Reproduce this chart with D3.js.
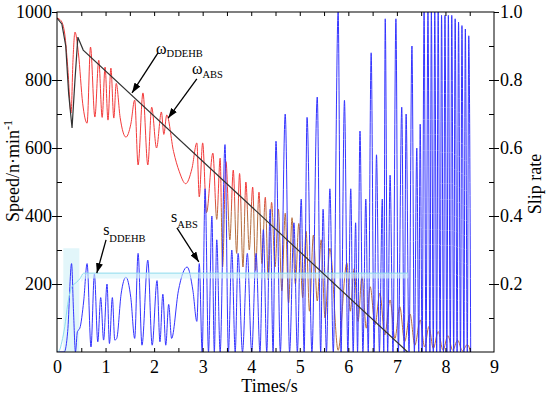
<!DOCTYPE html>
<html>
<head>
<meta charset="utf-8">
<script src="https://cdn.jsdelivr.net/npm/d3@7"></script>
<style>
body { margin: 0; background: #fff; }
svg { display: block; font-family: 'Liberation Serif', 'Times New Roman', serif; }
.axis text { font-size: 18px; fill: #000; font-family: 'Liberation Serif', 'Times New Roman', serif; }
.axis line { stroke: #000; stroke-width: 1; }
.axis path { display: none; }
</style>
</head>
<body>
<div id="chart"></div>
<script>
'use strict';

// wheel speed (n/min) over time (s)
var omegaDdehb = [[0, 982], [0.1, 965], [0.18, 900], [0.24, 760], [0.31, 659], [0.37, 800], [0.43, 926], [0.54, 888], [7.22, 0]];

var omegaAbs = [[0, 982], [0.08, 975], [0.16, 935], [0.22, 840], [0.29, 703], [0.33, 860], [0.37, 941], [0.44, 880],
  [0.53, 730], [0.62, 673], [0.69, 897], [0.78, 691], [0.86, 858], [0.93, 690], [0.99, 838], [1.05, 682],
  [1.11, 835], [1.17, 688], [1.22, 790], [1.30, 690], [1.42, 632], [1.52, 670], [1.60, 741], [1.67, 550],
  [1.77, 762], [1.87, 550], [1.95, 720], [2.05, 600], [2.15, 706], [2.20, 640], [2.26, 697], [2.40, 590],
  [2.52, 530], [2.65, 495], [2.78, 540], [2.88, 615], [2.93, 456], [3.00, 615], [3.08, 410], [3.21, 585],
  [3.29, 390], [3.36, 570], [3.41, 250], [3.48, 560], [3.56, 330], [3.63, 535], [3.70, 290], [3.76, 525],
  [3.83, 250], [3.89, 500], [3.96, 300], [4.03, 485], [4.09, 240], [4.16, 470], [4.22, 260], [4.29, 455],
  [4.35, 212], [4.42, 440], [4.49, 250], [4.56, 420], [4.63, 180], [4.70, 408], [4.77, 144], [4.84, 395],
  [4.91, 200], [4.98, 378], [5.06, 160], [5.13, 355], [5.20, 120], [5.28, 344], [5.36, 150], [5.44, 330],
  [5.52, 100], [5.62, 305], [5.79, 5], [5.97, 262], [6.04, 120], [6.12, 245], [6.20, 90], [6.28, 222],
  [6.37, 70], [6.45, 192], [6.55, 80], [6.65, 173], [6.75, 50], [6.86, 153], [6.96, 40], [7.06, 133],
  [7.16, 30], [7.27, 112], [7.37, 20], [7.48, 94], [7.57, 15], [7.66, 75], [7.75, 10], [7.85, 60],
  [7.95, 5], [8.05, 48], [8.15, 5], [8.25, 35], [8.35, 3], [8.45, 22], [8.52, 0]];

// slip rate over time (s)
var slipDdehb = [[0, 0], [0.05, 0.005], [0.1, 0.03], [0.16, 0.075], [0.22, 0.14], [0.3, 0.19], [0.4, 0.205],
  [0.47, 0.215], [0.55, 0.232], [7.23, 0.232]];

// dense oscillation zones of s_DDEHB: [t, low, high]
var slipDdehbEarlyBand = [[0.13, 0, 0.305], [0.46, 0, 0.305]];
var slipDdehbLateBand = [[0.5, 0.205, 0.222], [0.56, 0.216, 0.232], [7.23, 0.216, 0.232]];

var slipAbs = [[0, 0], [0.15, 0], [0.22, 0.06], [0.30, 0.26], [0.34, 0.12], [0.38, 0], [0.42, 0.06], [0.47, 0.07],
  [0.55, 0.15], [0.62, 0.26], [0.70, 0.015], [0.77, 0.23], [0.84, 0.03], [0.90, 0.16], [0.96, 0.035],
  [1.03, 0.20], [1.08, 0.025], [1.14, 0.16], [1.19, 0.035], [1.23, 0.04], [1.32, 0.17], [1.42, 0.22],
  [1.52, 0.16], [1.60, 0.04], [1.67, 0.29], [1.75, 0.02], [1.87, 0.27], [1.96, 0.02], [2.06, 0.21],
  [2.12, 0.03], [2.18, 0.17], [2.24, 0.02], [2.30, 0.14], [2.36, 0.04], [2.50, 0.18], [2.68, 0.25],
  [2.80, 0.18], [2.88, 0.09], [2.93, 0.26], [2.99, 0], [3.05, 0.48], [3.12, 0], [3.19, 0.40], [3.24, 0],
  [3.29, 0.33], [3.36, 0], [3.46, 0.61], [3.53, 0], [3.60, 0.30], [3.67, 0], [3.73, 0.29], [3.82, 0],
  [3.92, 0.29], [4.01, 0], [4.10, 0.29], [4.18, 0], [4.25, 0.36], [4.32, 0], [4.39, 0.42], [4.45, 0],
  [4.51, 0.62], [4.60, 0], [4.70, 0.70], [4.79, 0], [4.88, 0.38], [4.95, 0], [5.03, 0.45], [5.09, 0],
  [5.15, 0.69], [5.25, 0], [5.36, 0.75], [5.43, 0], [5.48, 0.42], [5.55, 0], [5.62, 0.48], [5.69, 0],
  [5.79, 1.0], [5.85, 0], [5.92, 0.74], [5.99, 0], [6.05, 0.48], [6.10, 0], [6.15, 0.38], [6.19, 0],
  [6.24, 0.65], [6.30, 0], [6.36, 0.45], [6.41, 0], [6.47, 0.88], [6.53, 0], [6.58, 0.58], [6.64, 0],
  [6.70, 0.45], [6.73, 0], [6.76, 0.98], [6.81, 0], [6.86, 0.52], [6.92, 0], [6.98, 0.98], [7.03, 0],
  [7.10, 0.72], [7.15, 0], [7.19, 0.70], [7.25, 0], [7.31, 0.90], [7.36, 0], [7.41, 0.60], [7.45, 0],
  [7.48, 0.67], [7.52, 0], [7.56, 1.0], [7.60, 0], [7.64, 1.0], [7.68, 0], [7.71, 1.0], [7.75, 0],
  [7.78, 1.0], [7.82, 0], [7.85, 1.0], [7.89, 0], [7.92, 0.99], [7.96, 0], [7.99, 0.99], [8.03, 0],
  [8.06, 0.99], [8.10, 0], [8.13, 0.99], [8.17, 0], [8.20, 0.98], [8.24, 0], [8.27, 0.97], [8.31, 0],
  [8.34, 0.96], [8.38, 0], [8.41, 0.95], [8.45, 0], [8.48, 0.93], [8.52, 0]];

var timeTicks = [0, 1, 2, 3, 4, 5, 6, 7, 8, 9];
var timeMinor = [0.5, 1, 1.5, 2, 2.5, 3, 3.5, 4, 4.5, 5, 5.5, 6, 6.5, 7, 7.5, 8, 8.5];
var speedTicks = [200, 400, 600, 800, 1000];
var speedMinor = [100, 200, 300, 400, 500, 600, 700, 800, 900];
var slipTicks = [0.2, 0.4, 0.6, 0.8, 1.0];
var slipMinor = [0.1, 0.2, 0.3, 0.4, 0.5, 0.6, 0.7, 0.8, 0.9];

// annotations: text anchor, arrow start, arrow tip (data units)
var notes = [
  {sym: 'ω', sub: 'DDEHB', axis: 'speed', text: [2.04, 876], from: [2.08, 880], to: [1.545, 762], dy: 3},
  {sym: 'ω', sub: 'ABS', axis: 'speed', text: [2.78, 818], from: [2.88, 803], to: [2.29, 688], dy: 4},
  {sym: 's', sub: 'DDEHB', axis: 'slip', text: [0.95, 0.344], from: [1.01, 0.33], to: [0.82, 0.232], dy: 7},
  {sym: 's', sub: 'ABS', axis: 'slip', text: [2.35, 0.382], from: [2.47, 0.365], to: [2.92, 0.265], dy: 6}
];

var margin = {top: 12, right: 56, bottom: 45, left: 57},
  fullW = 550, fullH = 397,
  width = fullW - margin.left - margin.right,
  height = fullH - margin.top - margin.bottom;

var svg = d3.select('#chart').append('svg')
    .attr('width', fullW)
    .attr('height', fullH);

var defs = svg.append('defs');
defs.append('clipPath').attr('id', 'plot-clip')
  .append('rect').attr('width', width).attr('height', height);

defs.append('marker')
    .attr('id', 'arrow')
    .attr('markerUnits', 'userSpaceOnUse')
    .attr('markerWidth', 10).attr('markerHeight', 7)
    .attr('refX', 10).attr('refY', 3.5)
    .attr('orient', 'auto')
  .append('path')
    .attr('d', 'M0,0 L10,3.5 L0,7 z')
    .attr('fill', '#000');

var g = svg.append('g')
    .attr('transform', 'translate(' + margin.left + ',' + margin.top + ')');

var x = d3.scaleLinear().domain([0, 9]).range([0, width]);
var ySpeed = d3.scaleLinear().domain([0, 1000]).range([height, 0]);
var ySlip = d3.scaleLinear().domain([0, 1]).range([height, 0]);

// red turns brownish where it dives into the blue tangle
var grad = defs.append('linearGradient')
    .attr('id', 'abs-grad')
    .attr('gradientUnits', 'userSpaceOnUse')
    .attr('x1', 0).attr('x2', 0)
    .attr('y1', ySpeed(470)).attr('y2', ySpeed(400));
grad.append('stop').attr('offset', 0).attr('stop-color', '#f23a3a');
grad.append('stop').attr('offset', 1).attr('stop-color', '#b56d3e');

var plot = g.append('g').attr('clip-path', 'url(#plot-clip)');

var band = d3.area()
    .x(function(d) { return x(d[0]); })
    .y0(function(d) { return ySlip(d[1]); })
    .y1(function(d) { return ySlip(d[2]); });

plot.append('path').datum(slipDdehbEarlyBand)
    .attr('d', band).attr('fill', '#e2f6fa');

var speedLine = d3.line()
    .x(function(d) { return x(d[0]); })
    .y(function(d) { return ySpeed(d[1]); })
    .curve(d3.curveMonotoneX);

var slipLine = d3.line()
    .x(function(d) { return x(d[0]); })
    .y(function(d) { return ySlip(d[1]); })
    .curve(d3.curveMonotoneX);

plot.append('path').datum(omegaAbs)
    .attr('d', speedLine)
    .attr('fill', 'none')
    .attr('stroke', 'url(#abs-grad)')
    .attr('stroke-width', 1);

plot.append('path').datum(slipAbs)
    .attr('d', slipLine)
    .attr('fill', 'none')
    .attr('stroke', '#3434ff')
    .attr('stroke-width', 1);

plot.append('path').datum(slipDdehbLateBand)
    .attr('d', band).attr('fill', '#d4f3fa').attr('opacity', 0.6);

plot.append('path').datum(slipDdehb)
    .attr('d', slipLine)
    .attr('fill', 'none')
    .attr('stroke', '#8edcee')
    .attr('stroke-width', 1);

plot.append('path').datum(omegaDdehb)
    .attr('d', d3.line()
      .x(function(d) { return x(d[0]); })
      .y(function(d) { return ySpeed(d[1]); }))
    .attr('fill', 'none')
    .attr('stroke', '#333')
    .attr('stroke-width', 1.2);

// frame
g.append('rect')
    .attr('width', width).attr('height', height)
    .attr('fill', 'none').attr('stroke', '#000').attr('stroke-width', 1);

// bottom axis: inward minor ticks + labels
g.append('g').attr('class', 'axis')
    .attr('transform', 'translate(0,' + height + ')')
    .call(d3.axisBottom(x).tickValues(timeMinor).tickSize(-4).tickFormat(''));
g.append('g').attr('class', 'axis')
    .attr('transform', 'translate(0,' + height + ')')
    .call(d3.axisBottom(x).tickValues(timeTicks).tickSize(0).tickPadding(8).tickFormat(d3.format('d')));

// top axis ticks
g.append('g').attr('class', 'axis')
    .call(d3.axisTop(x).tickValues(timeMinor).tickSize(-4).tickFormat(''));

// left axis
g.append('g').attr('class', 'axis')
    .call(d3.axisLeft(ySpeed).tickValues(speedMinor).tickSize(-5).tickFormat(''));
g.append('g').attr('class', 'axis')
    .call(d3.axisLeft(ySpeed).tickValues(speedTicks).tickSize(5).tickPadding(0).tickFormat(d3.format('d')));

// right axis
g.append('g').attr('class', 'axis')
    .attr('transform', 'translate(' + width + ',0)')
    .call(d3.axisRight(ySlip).tickValues(slipMinor).tickSize(-5).tickFormat(''));
g.append('g').attr('class', 'axis')
    .attr('transform', 'translate(' + width + ',0)')
    .call(d3.axisRight(ySlip).tickValues(slipTicks).tickSize(5).tickPadding(1).tickFormat(d3.format('.1f')));

// axis titles
svg.append('text')
    .attr('transform', 'translate(19,' + 171 + ') rotate(-90)')
    .attr('text-anchor', 'middle')
    .attr('font-size', 18)
    .text('Speed/n·min')
  .append('tspan')
    .attr('dy', -7).attr('font-size', 12)
    .text('-1');

svg.append('text')
    .attr('transform', 'translate(541,184) rotate(-90)')
    .attr('text-anchor', 'middle')
    .attr('font-size', 18)
    .text('Slip rate');

svg.append('text')
    .attr('x', margin.left + width / 2 - 6)
    .attr('y', 392)
    .attr('text-anchor', 'middle')
    .attr('font-size', 18)
    .text('Times/s');

// annotations
notes.forEach(function(n) {
  var y = n.axis === 'speed' ? ySpeed : ySlip;
  var t = g.append('text')
      .attr('x', x(n.text[0]))
      .attr('y', y(n.text[1]))
      .attr('font-size', 16)
      .text(n.sym);
  t.append('tspan')
      .attr('dy', n.dy)
      .attr('font-size', 10.5)
      .text(n.sub);
  g.append('line')
      .attr('x1', x(n.from[0])).attr('y1', y(n.from[1]))
      .attr('x2', x(n.to[0])).attr('y2', y(n.to[1]))
      .attr('stroke', '#000')
      .attr('stroke-width', 1.3)
      .attr('marker-end', 'url(#arrow)');
});
</script>
</body>
</html>
